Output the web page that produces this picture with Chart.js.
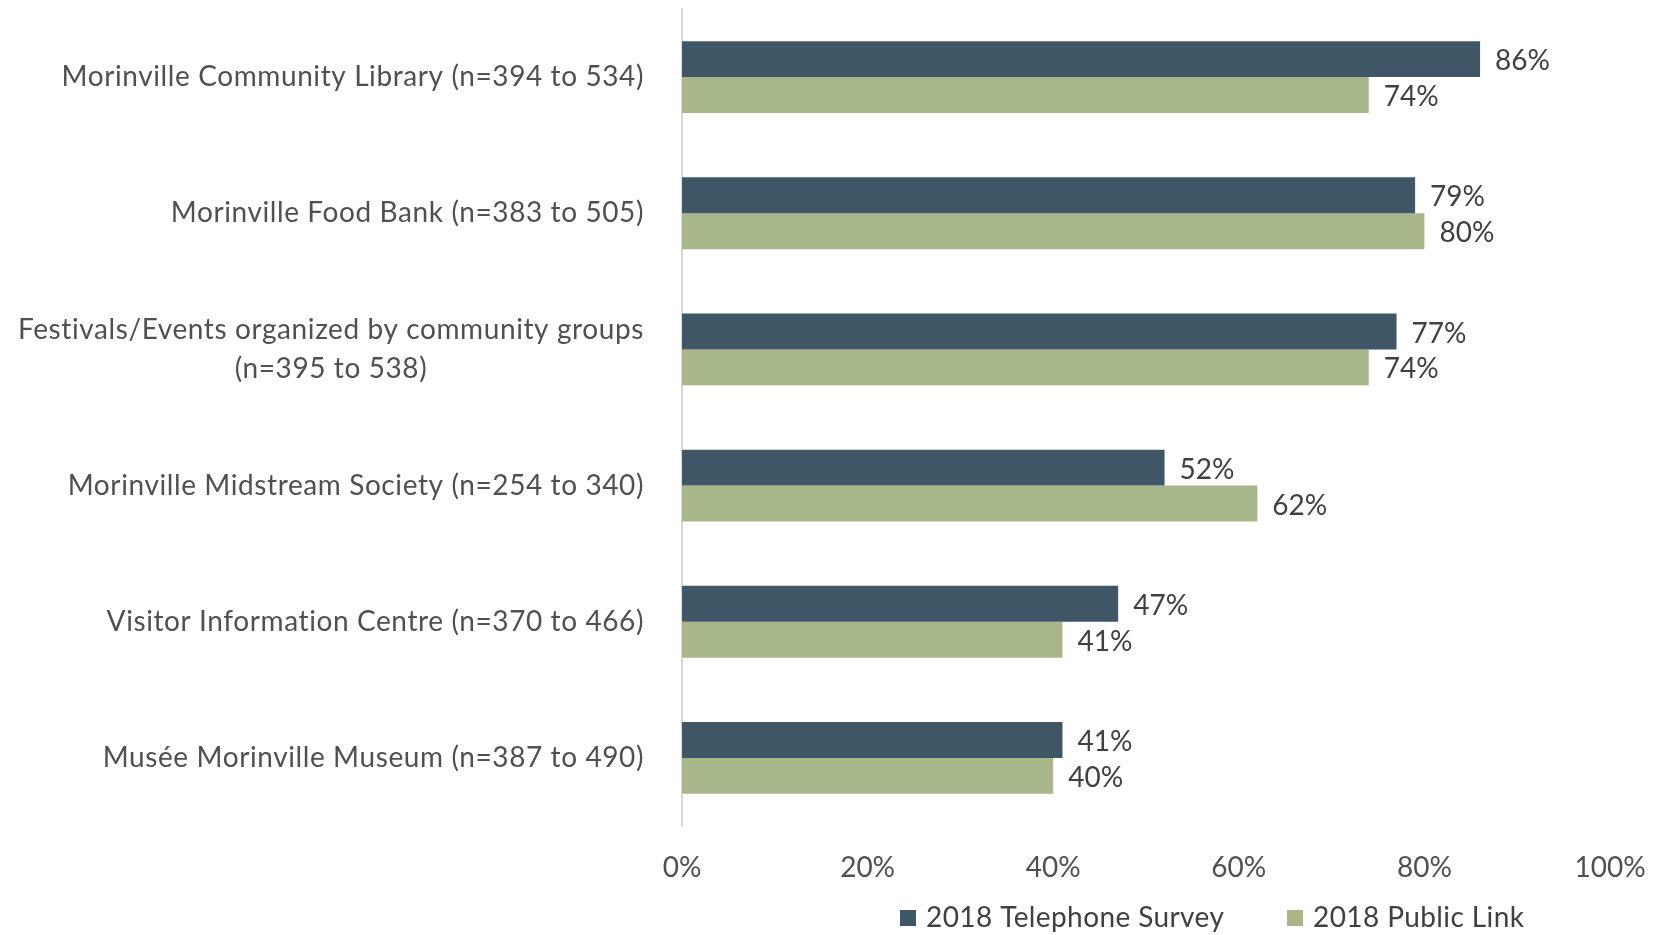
<!DOCTYPE html>
<html>
<head>
<meta charset="utf-8">
<script src="https://cdn.jsdelivr.net/npm/chart.js@4"></script>
<style>
  html, body { margin: 0; padding: 0; background: #fff; }
  #wrap { width: 1659px; height: 935px; }
</style>
</head>
<body>
<div id="wrap"><canvas id="myChart"></canvas></div>
<script>
const categories = [
    "Morinville Community Library (n=394 to 534)",
    "Morinville Food Bank (n=383 to 505)",
    ["Festivals/Events organized by community groups", "(n=395 to 538)"],
    "Morinville Midstream Society (n=254 to 340)",
    "Visitor Information Centre (n=370 to 466)",
    "Musée Morinville Museum (n=387 to 490)"
];
const seriesNames = ["2018 Telephone Survey", "2018 Public Link"];
const telephone = [86, 79, 77, 52, 47, 41];
const publicLink = [74, 80, 74, 62, 41, 40];
const xTicks = [0, 20, 40, 60, 80, 100];
const colors = ['#3F5666', '#A7B78A'];

const FONT = 'Lato';
const TEXT = '#404040';
const LABEL = '#505050';

// category labels, right aligned; wrapped lines centred under the first one
const labelPlugin = {
    id: 'catLabels',
    afterDraw(chart) {
        const ctx = chart.ctx, y = chart.scales.y;
        ctx.save();
        ctx.font = '28px ' + FONT;
        ctx.letterSpacing = '0.6px';
        ctx.fillStyle = LABEL;
        ctx.textBaseline = 'middle';
        const right = chart.chartArea.left - 38;
        categories.forEach((lab, i) => {
            const cy = y.getPixelForValue(i);
            if (Array.isArray(lab)) {
                const w = ctx.measureText(lab[0]).width;
                const mid = right - w / 2;
                const lh = 39;
                ctx.textAlign = 'center';
                lab.forEach((l, j) => {
                    ctx.fillText(l, mid, cy + (j - (lab.length - 1) / 2) * lh);
                });
            } else {
                ctx.textAlign = 'right';
                ctx.fillText(lab, right, cy);
            }
        });
        ctx.restore();
    }
};

// value labels at bar ends
const valuePlugin = {
    id: 'values',
    afterDatasetsDraw(chart) {
        const ctx = chart.ctx;
        ctx.save();
        ctx.font = '28px ' + FONT;
        ctx.fillStyle = TEXT;
        ctx.textAlign = 'left';
        ctx.textBaseline = 'middle';
        chart.data.datasets.forEach((ds, di) => {
            chart.getDatasetMeta(di).data.forEach((bar, i) => {
                ctx.fillText(ds.data[i] + '%', bar.x + 15, bar.y + 2);
            });
        });
        ctx.restore();
    }
};

// legend under the axis
const legendPlugin = {
    id: 'bottomLegend',
    afterDraw(chart) {
        const ctx = chart.ctx;
        const xs = [900, 1287];
        const cy = 918;
        ctx.save();
        ctx.font = '28px ' + FONT;
        ctx.letterSpacing = '0.4px';
        ctx.textAlign = 'left';
        ctx.textBaseline = 'middle';
        chart.data.datasets.forEach((ds, i) => {
            ctx.fillStyle = ds.backgroundColor;
            ctx.fillRect(xs[i], cy - 8, 16, 16);
            ctx.fillStyle = TEXT;
            ctx.fillText(ds.label, xs[i] + 26, cy);
        });
        ctx.restore();
    }
};

const data = {
    labels: categories,
    datasets: [{
        label: seriesNames[0],
        data: telephone,
        backgroundColor: colors[0],
        barPercentage: 1,
        categoryPercentage: 0.527
    }, {
        label: seriesNames[1],
        data: publicLink,
        backgroundColor: colors[1],
        barPercentage: 1,
        categoryPercentage: 0.527
    }]
};

const config = {
    type: 'bar',
    data: data,
    options: {
        indexAxis: 'y',
        responsive: true,
        maintainAspectRatio: false,
        animation: false,
        layout: { padding: { top: 9, right: 49, left: 0, bottom: 0 } },
        scales: {
            x: {
                min: 0,
                max: 100,
                afterBuildTicks: s => { s.ticks = xTicks.map(v => ({ value: v })); },
                afterFit: s => {
                    s.height = 109;
                    s.paddingLeft = 0;
                    s.paddingRight = 0;
                },
                grid: { display: false, drawTicks: false },
                border: { display: false },
                ticks: {
                    padding: 25,
                    color: LABEL,
                    font: { family: FONT, size: 28 },
                    callback: v => v + '%'
                }
            },
            y: {
                afterFit: s => { s.width = 682; },
                grid: { display: false, drawTicks: false },
                border: { display: true, color: '#D9D9D9', width: 2 },
                ticks: { display: false }
            }
        },
        plugins: {
            legend: { display: false },
            tooltip: { enabled: false }
        }
    },
    plugins: [labelPlugin, valuePlugin, legendPlugin]
};

new Chart(document.getElementById('myChart'), config);
</script>
</body>
</html>
